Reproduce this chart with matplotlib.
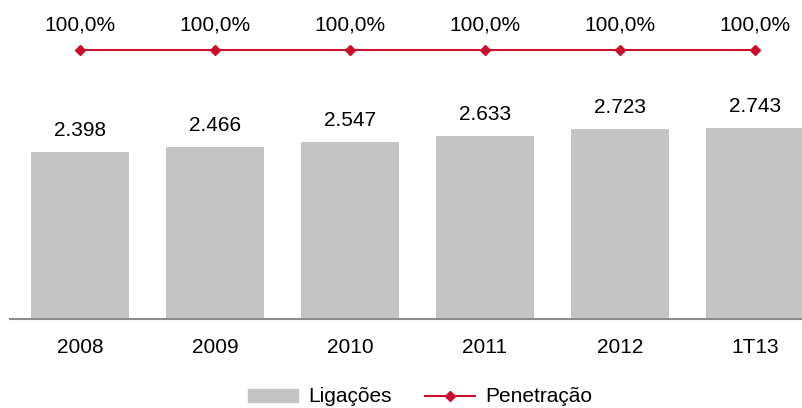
import matplotlib
matplotlib.use("Agg")
import matplotlib.pyplot as plt
from matplotlib.lines import Line2D
from matplotlib.patches import Patch

plt.rcParams['font.family'] = ['Liberation Sans', 'DejaVu Sans']

# data
periodos = ["2008", "2009", "2010", "2011", "2012", "1T13"]
ligacoes = [2398, 2466, 2547, 2633, 2723, 2743]
penetracao = [100.0, 100.0, 100.0, 100.0, 100.0, 100.0]

cor_barra = "#c4c4c4"
cor_linha = "#c8102e"

fig = plt.figure(figsize=(8.03, 4.08), dpi=100)
ax = fig.add_axes([10 / 803, 89 / 408, 793 / 803, 319 / 408])

x = list(range(len(periodos)))
ax.bar(x, ligacoes, width=0.72, color=cor_barra, zorder=2)
for xi, v in zip(x, ligacoes):
    txt = f"{v:,}".replace(",", ".")
    ax.annotate(txt, (xi, v), xytext=(0, 11.5), textcoords="offset points",
                ha="center", va="baseline", fontsize=15)

ax.set_xlim(-0.519, 5.356)
ax.set_ylim(0, 4583)
ax.set_xticks(x)
ax.set_xticklabels(periodos, fontsize=15)
ax.tick_params(axis="x", length=0, pad=14)
ax.set_yticks([])
for s in ["top", "left", "right"]:
    ax.spines[s].set_visible(False)
ax.spines["bottom"].set_color("#8c8c8c")
ax.spines["bottom"].set_linewidth(1.5)

ax2 = ax.twinx()
ax2.plot(x, penetracao, color=cor_linha, lw=1.5, marker="D", ms=5, zorder=3)
for xi, v in zip(x, penetracao):
    txt = f"{v:.1f}%".replace(".", ",")
    ax2.annotate(txt, (xi, v), xytext=(0, 14.4), textcoords="offset points",
                 ha="center", va="baseline", fontsize=15)
ax2.set_ylim(0, 118.6)
ax2.set_yticks([])
for s in ["top", "left", "right", "bottom"]:
    ax2.spines[s].set_visible(False)

handles = [Patch(color=cor_barra, label="Ligações"),
           Line2D([], [], color=cor_linha, lw=1.5, marker="D", ms=5, label="Penetração")]
fig.legend(handles=handles, loc="center", bbox_to_anchor=(420 / 803, 1 - 397 / 408),
           ncol=2, frameon=False, fontsize=15, handlelength=2.4, handleheight=0.6,
           columnspacing=1.6, handletextpad=0.5)

fig.savefig("out.png", dpi=100)
